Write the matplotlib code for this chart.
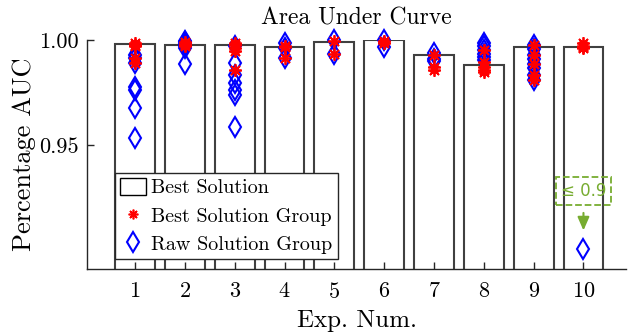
import matplotlib
matplotlib.use("Agg")
import matplotlib.pyplot as plt
from matplotlib.patches import Patch
from matplotlib.lines import Line2D

plt.rcParams['font.family'] = 'serif'
plt.rcParams['font.serif'] = ['cmr10', 'DejaVu Serif']
plt.rcParams['axes.formatter.use_mathtext'] = True

# --- data ---
exp_num = [1, 2, 3, 4, 5, 6, 7, 8, 9, 10]
best_auc = [0.998, 0.9975, 0.9975, 0.9968, 0.9992, 0.9997, 0.9929, 0.9882, 0.9968, 0.9968]

best_group = [
    [0.9985, 0.9976, 0.997, 0.9914, 0.989],
    [0.999, 0.998, 0.9976, 0.997],
    [0.9985, 0.9975, 0.996, 0.9945, 0.9857],
    [0.997, 0.9965, 0.9915],
    [0.9995, 0.9933],
    [0.9995, 0.9985],
    [0.993, 0.9873, 0.9857],
    [0.995, 0.9895, 0.987, 0.9855, 0.9845],
    [0.9975, 0.993, 0.9885, 0.9833, 0.981],
    [0.9985, 0.997, 0.9965, 0.996],
]
raw_group = [
    [0.9929, 0.9913, 0.989, 0.9778, 0.9762, 0.9675, 0.9532],
    [0.9995, 0.999, 0.998, 0.997, 0.996, 0.9885],
    [0.997, 0.989, 0.9833, 0.9795, 0.976, 0.9738, 0.9587],
    [0.9985, 0.996, 0.9914],
    [1.0, 0.9933],
    [1.0, 0.9968],
    [0.9937, 0.991, 0.990],
    [0.9985, 0.997, 0.995, 0.9935, 0.992, 0.9905],
    [0.9976, 0.9955, 0.993, 0.991, 0.9885, 0.9865, 0.9833, 0.981],
    [0.9005],
]
low_label = "≤ 0.9"

green = '#77AC30'
fig = plt.figure(figsize=(6.32, 3.35), dpi=100)
ax = fig.add_axes([0.138, 0.197, 0.853, 0.684])

ax.bar(exp_num, best_auc, width=0.8, color='white', edgecolor='#404040', linewidth=1.5, zorder=1)

for x, vals in zip(exp_num, raw_group):
    ax.plot([x] * len(vals), vals, linestyle='none', marker='d', ms=10.5, mfc='none',
            mec='blue', mew=1.5, clip_on=False, zorder=3)
for x, vals in zip(exp_num, best_group):
    ax.plot([x] * len(vals), vals, linestyle='none', marker=(8, 2, 0), ms=9,
            color='red', mew=1.3, clip_on=False, zorder=4)

ax.set_xlim(0.04, 10.86)
ax.set_ylim(0.891, 1.0)
ax.set_xticks(exp_num)
ax.set_yticks([0.95, 1.00])
ax.set_yticklabels(['0.95', '1.00'])
ax.tick_params(direction='in', length=5, labelsize=16, width=1, colors='#262626')
ax.tick_params(axis='x', pad=9)
ax.tick_params(axis='y', pad=6)
for lab in ax.get_xticklabels() + ax.get_yticklabels():
    lab.set_color('black')
ax.spines['top'].set_visible(False)
ax.spines['right'].set_visible(False)
for s in ['left', 'bottom']:
    ax.spines[s].set_color('#262626')
    ax.spines[s].set_linewidth(1)

ax.set_xlabel('Exp. Num.', fontsize=18, labelpad=6)
ax.set_ylabel('Percentage AUC', fontsize=19, labelpad=2)
ax.text(0.5, 1.045, 'Area Under Curve', transform=ax.transAxes, ha='center',
        va='bottom', fontsize=17)

# annotation for values below the axis range
ax.text(10, 0.9281, low_label, ha='center', va='center', fontsize=12, color=green,
        family='DejaVu Sans',
        bbox=dict(boxstyle='square,pad=0.3', fc='none', ec=green, ls='--', lw=1.3))
ax.annotate('', xy=(10, 0.9080), xytext=(10, 0.9190),
            arrowprops=dict(arrowstyle='-|>,head_width=0.35,head_length=0.8',
                            color=green, lw=1.5))

handles = [
    Patch(facecolor='white', edgecolor='black', linewidth=1, label='Best Solution'),
    Line2D([], [], linestyle='none', marker=(8, 2, 0), ms=7, color='red', mew=1.2,
           label='Best Solution Group'),
    Line2D([], [], linestyle='none', marker='d', ms=10, mfc='none', mec='blue', mew=1.5,
           label='Raw Solution Group'),
]
leg = ax.legend(handles=handles, loc='lower left', bbox_to_anchor=(0.052, 0.044),
                borderaxespad=0, fontsize=14.5, fancybox=False, framealpha=1,
                edgecolor='#262626', handlelength=1.3, handleheight=0.9,
                handletextpad=0.25, borderpad=0.25, labelspacing=0.45)
leg.get_frame().set_linewidth(1)
leg.set_zorder(5)

fig.savefig('out.png', dpi=100)
